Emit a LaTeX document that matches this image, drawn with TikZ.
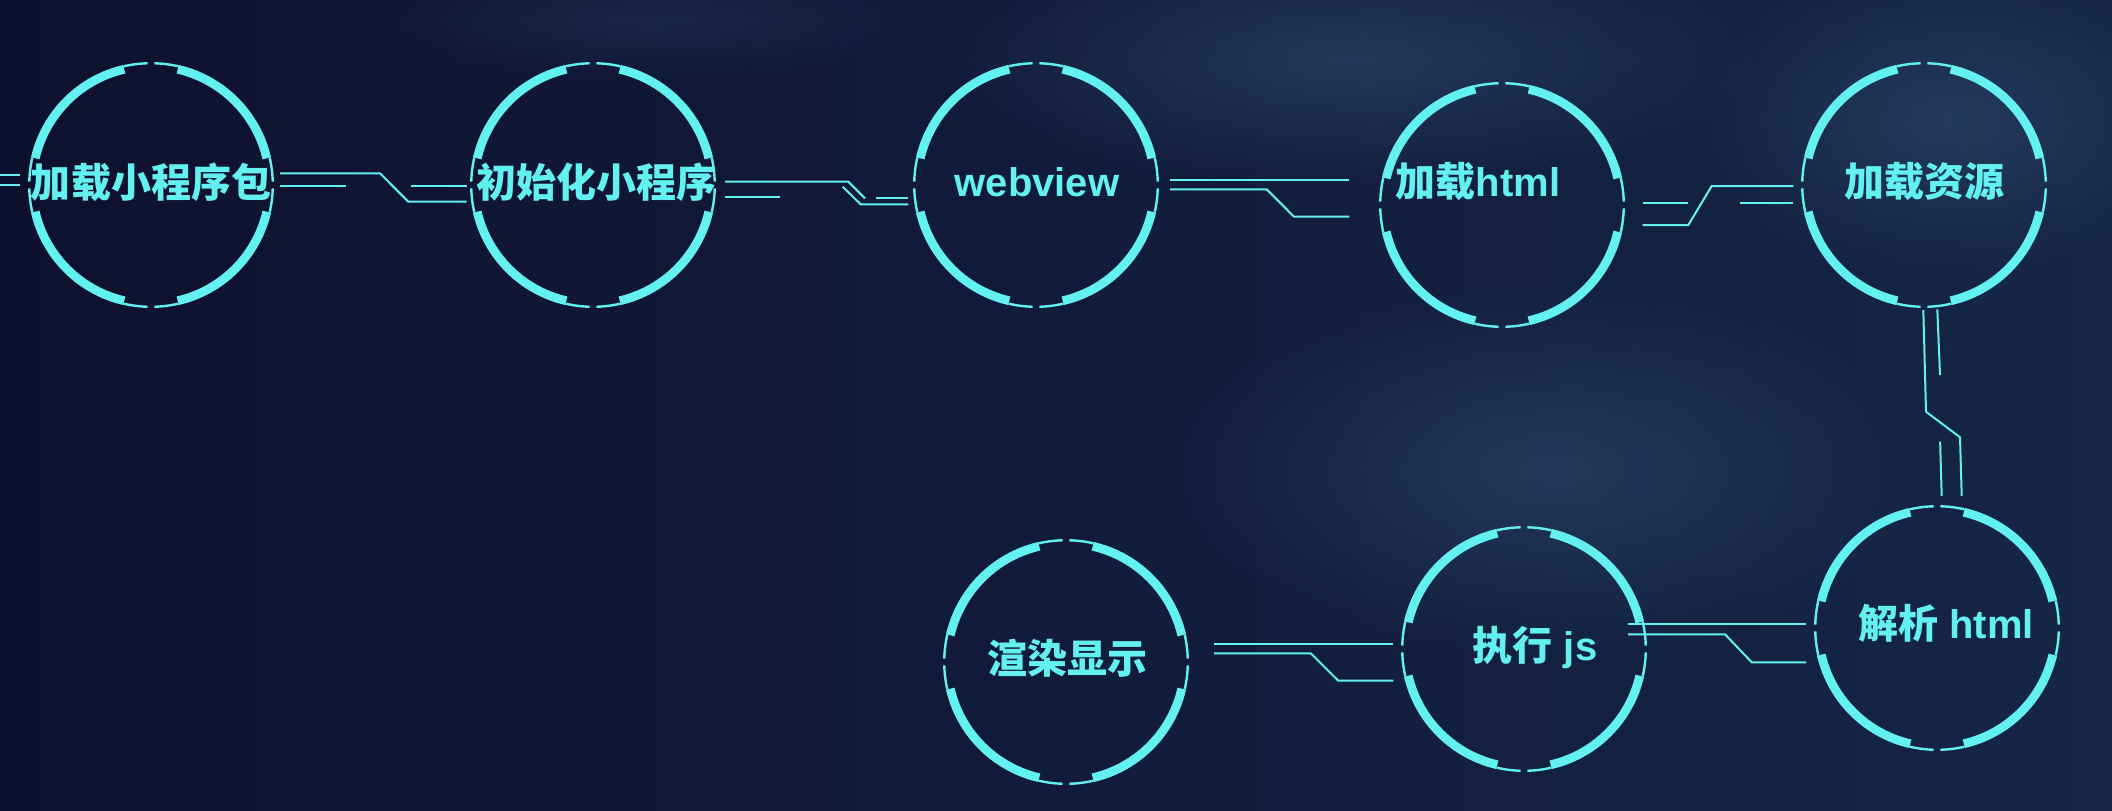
\documentclass[tikz,border=0pt]{standalone}
\usepackage{fontspec}
\usetikzlibrary{fadings}
\setmainfont{Liberation Sans}
\newfontfamily\cjk{Noto Sans CJK SC}
\definecolor{bgleft}{RGB}{14,17,46}
\definecolor{bgright}{RGB}{21,38,70}
\definecolor{haze}{RGB}{48,78,110}
\definecolor{neon}{RGB}{98,240,240}
\tikzfading[name=hazefade,inner color=transparent!0,outer color=transparent!100]
\tikzset{
  ringthin/.style={draw=neon,line width=1.2pt},
  ringthick/.style={draw=neon,line width=4.4pt},
  trace/.style={draw=neon,line width=1pt},
  glow/.style={fill=haze,path fading=hazefade,fill opacity=.55},
  steplabel/.style={inner sep=0pt,outer sep=0pt,text=neon,font=\bfseries\fontsize{20}{24}\selectfont},
}
\newcommand\hudring[1]{%
  \foreach \a in {0,90,180,270}{%
    \draw[ringthin] ([shift={(\a+1.6:121.8)}]#1) arc[start angle=\a+1.6,end angle=\a+13,radius=121.8];
    \draw[ringthin] ([shift={(\a-1.6:121.8)}]#1) arc[start angle=\a-1.6,end angle=\a-13,radius=121.8];
    \draw[ringthick] ([shift={(\a+13:118.8)}]#1) arc[start angle=\a+13,end angle=\a+77,radius=118.8];
  }}
\begin{document}
\begin{tikzpicture}[x=.5pt,y=-.5pt]
\path[use as bounding box] (0,0) rectangle (2112,810);
\shade[left color=bgleft,right color=bgright] (0,0) rectangle (2112,810);
\fill[glow] (1350,60) ellipse[x radius=420,y radius=130];
\fill[glow] (1550,470) ellipse[x radius=380,y radius=190];
\fill[glow] (1950,120) ellipse[x radius=260,y radius=160];
\fill[glow,fill opacity=.3] (650,20) ellipse[x radius=300,y radius=60];
\coordinate (pkg) at (151,185);
\coordinate (init) at (593,185);
\coordinate (web) at (1036,185);
\coordinate (html) at (1502,205);
\coordinate (res) at (1924,185);
\coordinate (parse) at (1937,628);
\coordinate (js) at (1524,649);
\coordinate (render) at (1066,662);
\foreach \c in {pkg,init,web,html,res,parse,js,render} {\hudring{\c}}
\node[steplabel] (pkg-t) at (151,182) {\cjk 加载小程序包};
\node[steplabel] (init-t) at (596,182) {\cjk 初始化小程序};
\node[steplabel] (web-t) at (1037,182) {webview};
\node[steplabel] (html-t) at (1478,182) {{\cjk 加载}html};
\node[steplabel] (res-t) at (1924,182) {\cjk 加载资源};
\node[steplabel] (parse-t) at (1946,623) {{\cjk 解析} html};
\node[steplabel] (js-t) at (1535,648) {{\cjk 执行} js};
\node[steplabel] (render-t) at (1067,658) {\cjk 渲染显示};
\draw[trace] ([shift={(-131,-10)}]pkg) -- ++(-20,0);
\draw[trace] ([shift={(-131,0)}]pkg) -- ++(-20,0);
\draw[trace] ([shift={(129,-11.7)}]pkg) -- ++(100,0) -- ++(28.3,28.4) -- ([shift={(-126.3,16.7)}]init);
\draw[trace] ([shift={(129,1)}]pkg) -- ++(66,0);
\draw[trace] ([shift={(-126.3,1)}]init) -- ++(-56,0);
\draw[trace] ([shift={(132,-3.3)}]init) -- ++(123.3,0) -- ++(16.7,16.7);
\draw[trace] ([shift={(132,11.7)}]init) -- ++(55,0);
\draw[trace] ([shift={(-127.7,19.3)}]web) -- ++(-47.6,0) -- ++(-18,-17.6);
\draw[trace] ([shift={(-127.7,13.3)}]web) -- ++(-32.3,0);
\draw[trace] ([shift={(134,-5)}]web) -- ([shift={(-152.7,-25)}]html);
\draw[trace] ([shift={(134,4.3)}]web) -- ++(96.7,0) -- ++(27.3,27.4) -- ([shift={(-152.7,11.7)}]html);
\draw[trace] ([shift={(140.7,20)}]html) -- ++(45.6,0) -- ++(23.4,-39) -- ([shift={(-130.7,1)}]res);
\draw[trace] ([shift={(140.7,-1.7)}]html) -- ++(45,0);
\draw[trace] ([shift={(-130.7,18.3)}]res) -- ++(-53.3,0);
\draw[trace] ([shift={(-0.7,125)}]res) -- ++(2.7,101.7) -- ++(34,25.6) -- ([shift={(24.7,-132)}]parse);
\draw[trace] ([shift={(13.3,124.3)}]res) -- ++(2.7,65.7);
\draw[trace] ([shift={(4.7,-132)}]parse) -- ++(-1.6,-54.3);
\draw[trace] ([shift={(104,-24.7)}]js) -- ([shift={(-131,-3.7)}]parse);
\draw[trace] ([shift={(104,-14.7)}]js) -- ++(97,0) -- ++(26.7,28) -- ([shift={(-131,34.3)}]parse);
\draw[trace] ([shift={(148,-18)}]render) -- ([shift={(-130.7,-5)}]js);
\draw[trace] ([shift={(148,-8.7)}]render) -- ++(96.7,0) -- ++(27.6,27.4) -- ([shift={(-130.7,31.7)}]js);
\end{tikzpicture}
\end{document}
